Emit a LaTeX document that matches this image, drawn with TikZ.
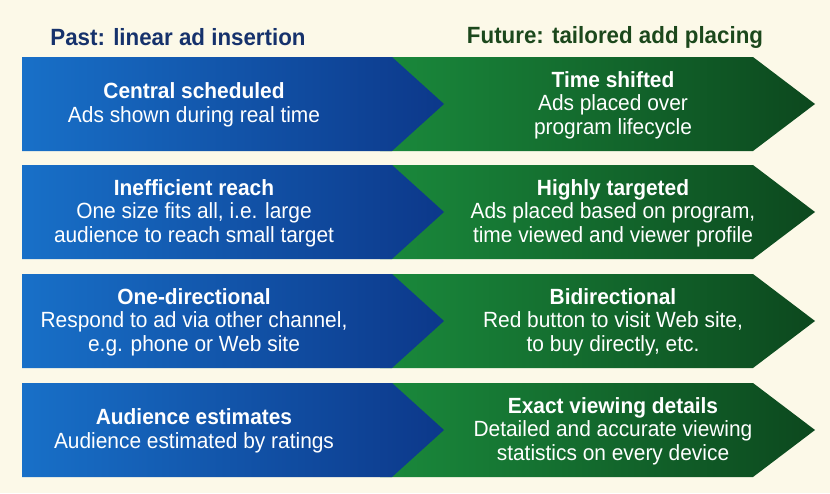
\documentclass[tikz,border=0pt]{standalone}
\usepackage{fontspec}
\setmainfont{Liberation Sans}[FakeStretch=0.95]
\usetikzlibrary{calc}
\definecolor{cream}{RGB}{252,249,232}
\definecolor{pastdark}{RGB}{12,56,138}
\definecolor{pastlight}{RGB}{24,112,200}
\definecolor{futdark}{RGB}{12,72,30}
\definecolor{futlight}{RGB}{26,138,60}
\definecolor{pasthead}{RGB}{22,50,108}
\definecolor{futhead}{RGB}{28,72,28}
\tikzset{
  rowtxt/.style={text=white,align=center,inner sep=0pt,font={\fontsize{22}{23.5}\selectfont}},
  headtxt/.style={font={\fontsize{23.5}{25}\selectfont\bfseries},inner sep=0pt}
}
\begin{document}
\begin{tikzpicture}[x={(1pt,0)},y={(0,-1pt)}]
  % Hintergrund
  \fill[cream] (0,0) rectangle (830,493);
  \useasboundingbox (0,0) rectangle (830,493);
  % Ueberschriften
  \node[headtxt,text=pasthead] (hpast) at (178,37) {Past: linear ad insertion};
  \node[headtxt,text=futhead] (hfuture) at (615,37) {Future: tailored add placing};
  % Pfeile
  \foreach\t in {57,165,274,383} {
    \shade[left color=futlight,right color=futdark]
      (380,\t) -- (753,\t) -- (815,\t+47) -- (753,\t+94) -- (380,\t+94) -- cycle;
    \shade[left color=pastlight,right color=pastdark]
      (22,\t) -- (392,\t) -- (444,\t+47) -- (392,\t+94) -- (22,\t+94) -- cycle;
  }
  % Texte links
  \node[rowtxt] (past1) at (194,105) {\textbf{Central scheduled}\\Ads shown during real time};
  \node[rowtxt] (past2) at (194,213) {\textbf{Inefficient reach}\\One size fits all, i.e. large\\audience to reach small target};
  \node[rowtxt] (past3) at (194,322) {\textbf{One-directional}\\Respond to ad via other channel,\\e.g. phone or Web site};
  \node[rowtxt] (past4) at (194,431) {\textbf{Audience estimates}\\Audience estimated by ratings};
  % Texte rechts
  \node[rowtxt] (future1) at (613,105) {\textbf{Time shifted}\\Ads placed over\\program lifecycle};
  \node[rowtxt] (future2) at (613,213) {\textbf{Highly targeted}\\Ads placed based on program,\\time viewed and viewer profile};
  \node[rowtxt] (future3) at (613,322) {\textbf{Bidirectional}\\Red button to visit Web site,\\to buy directly, etc.};
  \node[rowtxt] (future4) at (613,431) {\textbf{Exact viewing details}\\Detailed and accurate viewing\\statistics on every device};
\end{tikzpicture}
\end{document}
